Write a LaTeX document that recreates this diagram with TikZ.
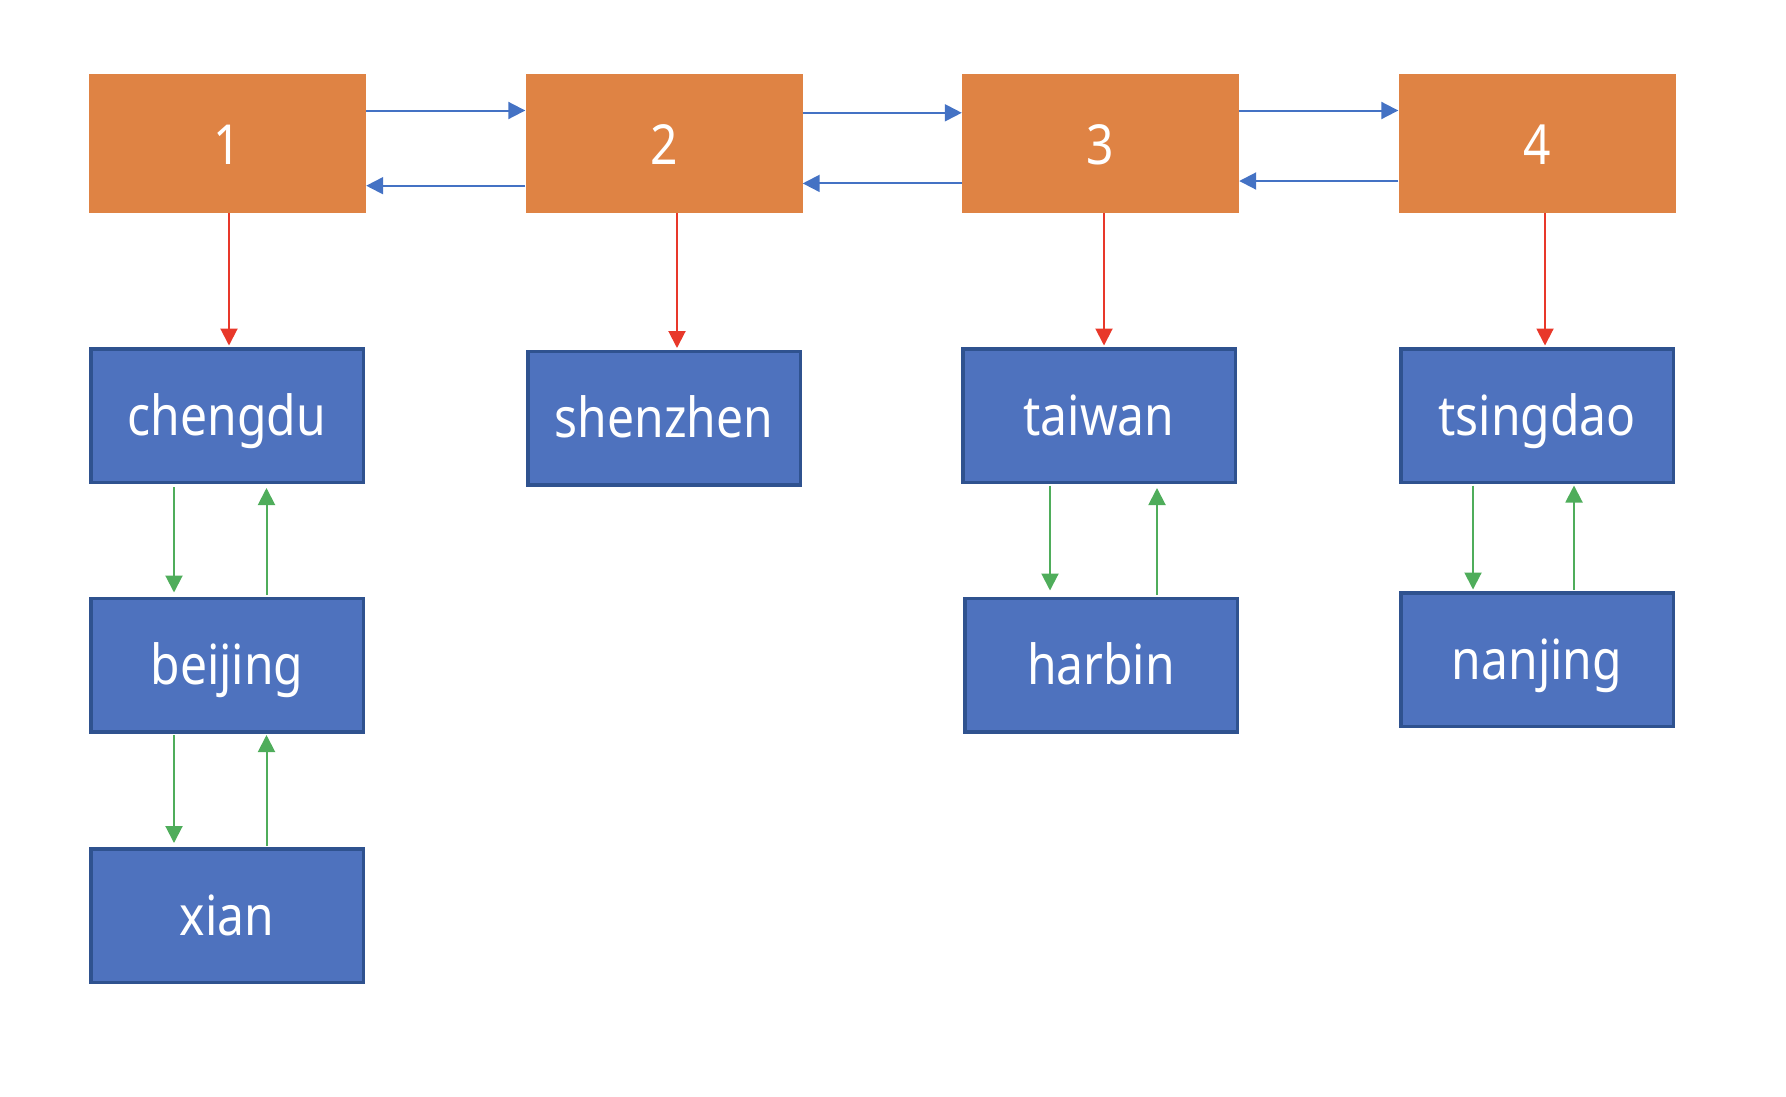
\documentclass[tikz,border=0pt]{standalone}
\usepackage{fontspec}
\setmainfont{Noto Sans}
\usetikzlibrary{arrows.meta}
\definecolor{obox}{HTML}{DF8344}
\definecolor{bbox}{HTML}{4E72BE}
\definecolor{bborder}{HTML}{2F528F}
\definecolor{barr}{HTML}{4472C4}
\definecolor{rarr}{HTML}{E8382A}
\definecolor{garr}{HTML}{4FAD5B}
\newcommand{\tallt}[1]{\scalebox{1}[1.15]{#1}}
\tikzset{
  obx/.style={fill=obox, draw=none, minimum width=277pt, minimum height=139pt, inner sep=0pt, text=white, font=\fontsize{48}{56}\selectfont, text height=41pt, text depth=0pt},
  bbx/.style={fill=bbox, draw=bborder, line width=3.5pt, minimum width=272.5pt, minimum height=133.5pt, inner sep=0pt, text=white, font=\fontsize{48}{56}\selectfont, text height=39pt, text depth=0pt},
  barrow/.style={draw=barr, line width=2pt, -{Triangle[length=17pt,width=17pt]}},
  rarrow/.style={draw=rarr, line width=2pt, -{Triangle[length=17pt,width=17pt]}},
  garrow/.style={draw=garr, line width=2pt, -{Triangle[length=17pt,width=17pt]}},
}
\begin{document}
\begin{tikzpicture}[x=1pt,y=-1pt]
\useasboundingbox (0,0) rectangle (1786,1096);
\node[obx] (n1) at (227.5,143.5) {\tallt{1}};
\node[obx] (n2) at (664,143.5) {\tallt{2}};
\node[obx] (n3) at (1100.5,143.5) {\tallt{3}};
\node[obx] (n4) at (1537,143.5) {\tallt{4}};
\node[bbx] (chengdu) at (227,415.5) {\tallt{chengdu}};
\node[bbx] (shenzhen) at (664,418) {\tallt{shenzhen}};
\node[bbx] (taiwan) at (1099,415.5) {\tallt{taiwan}};
\node[bbx] (tsingdao) at (1537,415.5) {\tallt{tsingdao}};
\node[bbx] (beijing) at (227,665) {\tallt{beijing}};
\node[bbx] (xian) at (227,915.5) {\tallt{xian}};
\node[bbx] (harbin) at (1101,665) {\tallt{harbin}};
\node[bbx] (nanjing) at (1537,659.5) {\tallt{nanjing}};
% top row links
\draw[barrow] (n1.east |- 0,110.5) -- (n2.west |- 0,110.5);
\draw[barrow] (n2.west |- 0,185.7) -- (n1.east |- 0,185.7);
\draw[barrow] (n2.east |- 0,112.8) -- (n3.west |- 0,112.8);
\draw[barrow] (n3.west |- 0,183.4) -- (n2.east |- 0,183.4);
\draw[barrow] (n3.east |- 0,110.5) -- (n4.west |- 0,110.5);
\draw[barrow] (n4.west |- 0,181) -- (n3.east |- 0,181);
% red links
\draw[rarrow] (n1.south -| 229,0) -- ([yshift=1.5pt]chengdu.north -| 229,0);
\draw[rarrow] (n2.south -| 677,0) -- ([yshift=1.5pt]shenzhen.north -| 677,0);
\draw[rarrow] (n3.south -| 1104,0) -- ([yshift=1.5pt]taiwan.north -| 1104,0);
\draw[rarrow] (n4.south -| 1545,0) -- ([yshift=1.5pt]tsingdao.north -| 1545,0);
% green links
\draw[garrow] ([yshift=-3pt]chengdu.south -| 174,0) -- ([yshift=4pt]beijing.north -| 174,0);
\draw[garrow] ([yshift=1.5pt]beijing.north -| 266.5,0) -- ([yshift=-4pt]chengdu.south -| 266.5,0);
\draw[garrow] ([yshift=-1.5pt]beijing.south -| 174,0) -- ([yshift=4pt]xian.north -| 174,0);
\draw[garrow] ([yshift=1.5pt]xian.north -| 266.5,0) -- ([yshift=-1.5pt]beijing.south -| 266.5,0);
\draw[garrow] ([yshift=-1.5pt]taiwan.south -| 1050,0) -- ([yshift=6pt]harbin.north -| 1050,0);
\draw[garrow] ([yshift=1.5pt]harbin.north -| 1157,0) -- ([yshift=-4pt]taiwan.south -| 1157,0);
\draw[garrow] ([yshift=-1.5pt]tsingdao.south -| 1473,0) -- ([yshift=1.5pt]nanjing.north -| 1473,0);
\draw[garrow] ([yshift=1.5pt]nanjing.north -| 1574,0) -- ([yshift=-1.5pt]tsingdao.south -| 1574,0);
\end{tikzpicture}
\end{document}
